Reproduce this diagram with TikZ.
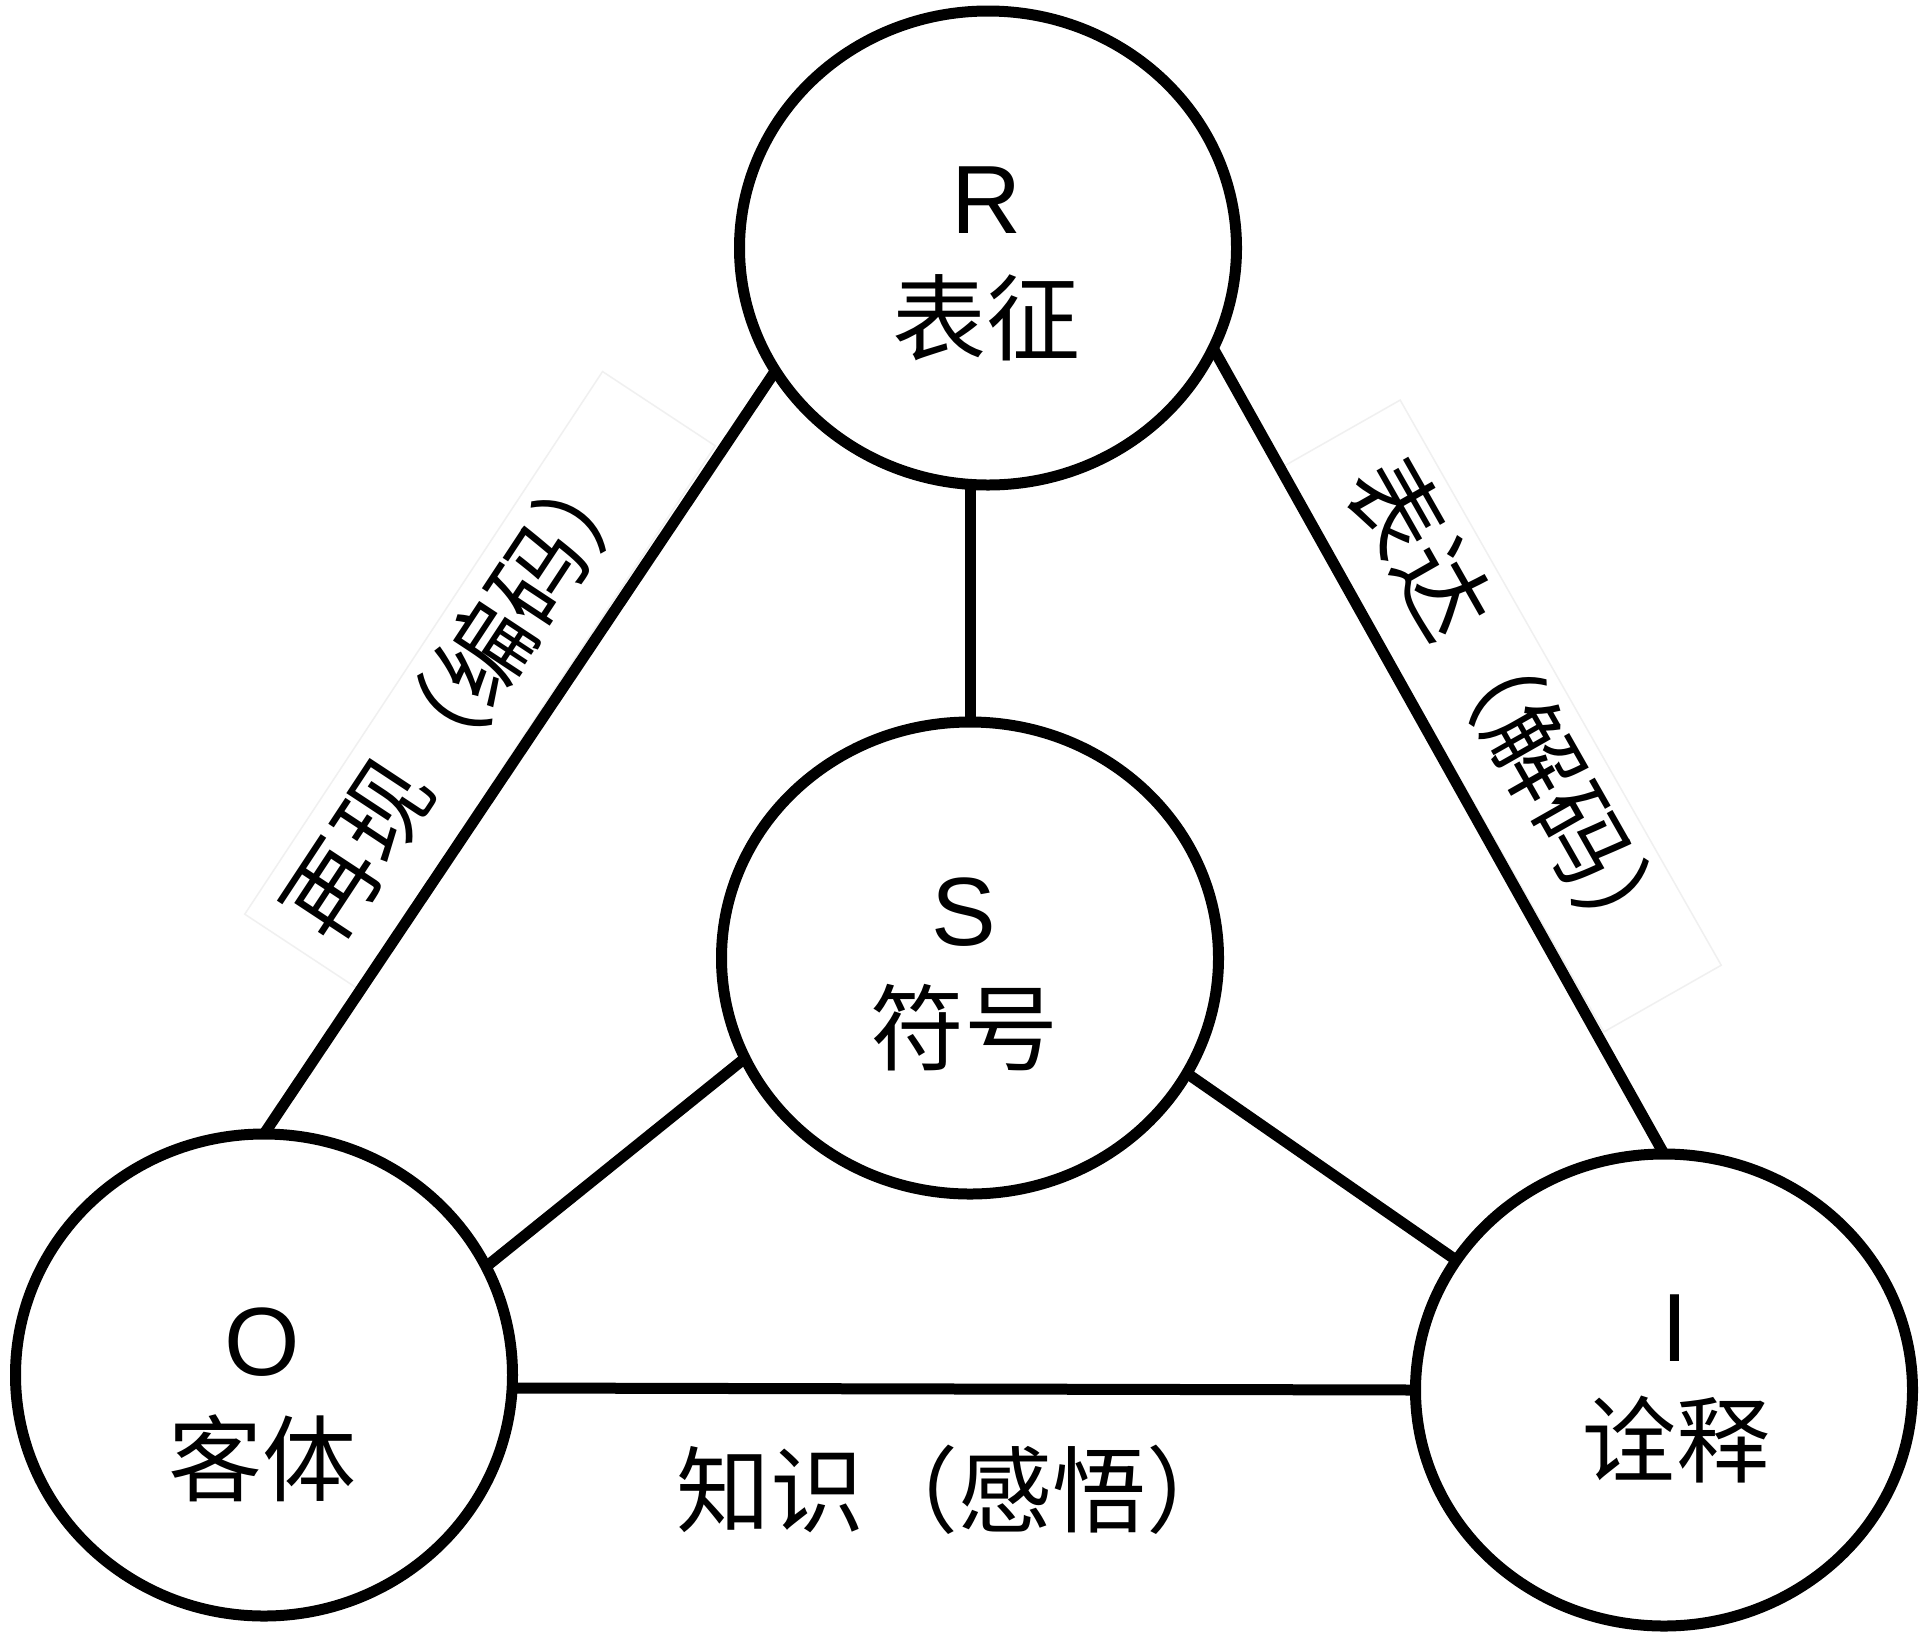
\documentclass[tikz,border=0pt]{standalone}
\usepackage{fontspec}
\usetikzlibrary{shapes.geometric}
\newfontfamily\cjk{Noto Sans CJK SC}
\newfontfamily\latn{Liberation Sans}
\begin{document}
\begin{tikzpicture}[x=1pt,y=-1pt]
\tikzset{
  circ/.style={ellipse, draw=black, line width=11pt, minimum width=497pt, inner sep=0pt, outer sep=0pt},
  latin/.style={font=\latn\fontsize{97}{100}\selectfont, inner sep=0pt},
  han/.style={font=\cjk\fontsize{94}{100}\selectfont, inner sep=0pt},
  conn/.style={line width=11pt},
  faintbox/.style={draw=black!6, line width=1.5pt, inner sep=0pt, minimum width=650pt, minimum height=135pt}
}
\useasboundingbox[fill=white] (0,0) rectangle (1930,1642);

% faint text boxes
\node[faintbox, rotate=56.6] (boxL) at (480,680) {};
\node[faintbox, rotate=-60.4] (boxR) at (1502,716) {};

% circles
\node[circ, minimum height=474pt] (R) at (988,248) {};
\node[circ, minimum height=472pt] (S) at (970,958) {};
\node[circ, minimum height=482pt] (O) at (264,1375) {};
\node[circ, minimum height=472pt] (I) at (1664,1390) {};

% connectors
\draw[conn] (S.north |- R.south) -- (S.north);
\draw[conn] (R.210.1) -- (O.90);
\draw[conn] (R.-24.7) -- (I.90);
\draw[conn] (S.204.8) -- (O.26.8);
\draw[conn] (S.-28.9) -- (I.148.7);
\draw[conn] (O.-3.5) -- (I.180);

% circle texts
\node[latin] (Rl) at (987,200) {R};
\node[han]   (Rt) at (986,318) {表征};
\node[latin] (Sl) at (964,912) {S};
\node[han]   (St) at (964,1028) {符号};
\node[latin] (Ol) at (262,1342) {O};
\node[han]   (Ot) at (262,1458) {客体};
\node[latin] (Il) at (1675,1328) {I};
\node[han]   (It) at (1676,1440) {诠释};

% edge labels
\node[han, rotate=56.6] (lblL) at (460,692) {再现（编码）};
\node[han, rotate=-60.4] (lblR) at (1513,711) {表达（解码）};
\node[han] (lblB) at (958,1490) {知识（感悟）};
\end{tikzpicture}
\end{document}
